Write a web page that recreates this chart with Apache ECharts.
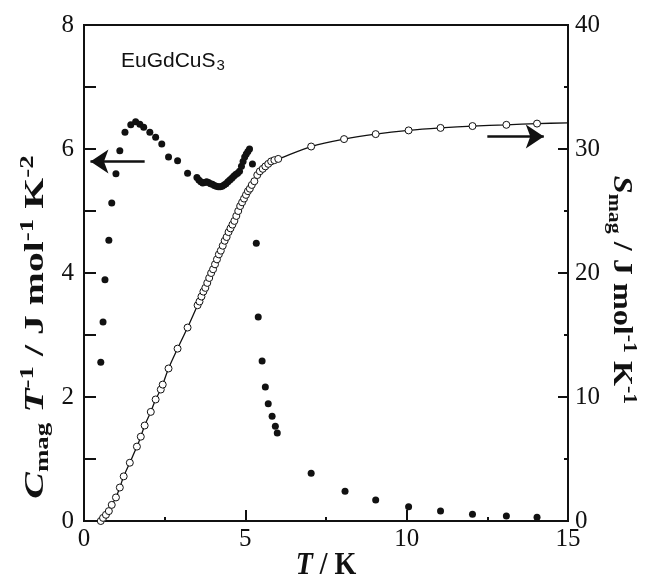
<!DOCTYPE html>
<html>
<head>
<meta charset="utf-8">
<script src="https://cdn.jsdelivr.net/npm/echarts@6.0.0/dist/echarts.min.js"></script>
<style>
html,body{margin:0;padding:0;background:#fff;}
#chart{width:654px;height:581px;}
</style>
</head>
<body>
<div id="chart"></div>
<script>
// ---- Data ----
// Magnetic heat capacity C_mag/T (left axis, filled circles)
const cT = [0.52,0.59,0.65,0.77,0.86,0.99,1.11,1.27,1.45,1.60,1.73,1.85,2.04,2.22,2.41,2.62,2.90,3.21,
  3.50,3.56,3.62,3.68,3.74,3.80,3.86,3.92,3.98,4.04,4.10,4.16,4.22,4.28,4.34,4.40,4.46,4.52,4.58,4.64,4.70,4.76,4.82,4.88,4.93,4.98,5.03,5.08,5.13,5.22,
  5.34,5.40,5.52,5.62,5.71,5.83,5.93,5.99,7.04,8.09,9.04,10.06,11.05,12.04,13.09,14.04];
const cVal = [2.56,3.21,3.89,4.53,5.13,5.60,5.97,6.27,6.39,6.44,6.40,6.35,6.27,6.19,6.08,5.87,5.81,5.61,
  5.54,5.50,5.47,5.45,5.46,5.47,5.46,5.44,5.43,5.41,5.40,5.39,5.39,5.40,5.42,5.44,5.47,5.50,5.53,5.56,5.59,5.61,5.64,5.72,5.80,5.87,5.92,5.96,6.00,5.76,
  4.48,3.29,2.58,2.16,1.89,1.69,1.53,1.42,0.77,0.48,0.34,0.23,0.16,0.11,0.08,0.06];

// Magnetic entropy S_mag (right axis, open circles)
const sT = [0.52,0.59,0.68,0.77,0.86,0.99,1.11,1.23,1.42,1.64,1.76,1.88,2.07,2.22,2.38,2.44,2.62,2.90,3.21,3.52,
  3.58,3.64,3.70,3.76,3.82,3.88,3.94,4.00,4.06,4.12,4.18,4.24,4.30,4.36,4.42,4.48,4.54,4.60,4.66,4.72,4.78,4.84,4.90,4.96,5.02,5.08,5.14,5.20,
  5.28,5.37,5.45,5.54,5.62,5.71,5.80,5.90,6.02,7.04,8.06,9.04,10.06,11.05,12.04,13.09,14.04];
const sVal = [0.0,0.25,0.5,0.8,1.3,1.9,2.7,3.6,4.7,6.0,6.8,7.7,8.8,9.8,10.6,11.0,12.3,13.9,15.6,17.4,
  17.7,18.1,18.5,18.8,19.2,19.6,20.0,20.3,20.7,21.1,21.5,21.8,22.2,22.6,22.9,23.3,23.6,23.9,24.2,24.6,25.0,25.4,25.7,26.0,26.3,26.6,26.8,27.1,
  27.4,27.9,28.2,28.4,28.6,28.8,29.0,29.1,29.2,30.2,30.8,31.2,31.5,31.7,31.85,31.95,32.05];
// end of the entropy curve at the right frame
const sTailT = [15];
const sTailVal = [32.1];

// Axis ticks
const xTicks = {min:0, max:15, interval:5};
const yLeftTicks = {min:0, max:8, interval:2};
const yRightTicks = {min:0, max:40, interval:10};

// Arrows (data coordinates)
const arrowLeft = {from:[1.88,5.8], to:[0.2,5.8]};
const arrowRight = {from:[12.5,31.0], to:[14.25,31.0]};

// ---- Build chart ----
const cData = cT.map((t,i)=>[t,cVal[i]]);
const sData = sT.map((t,i)=>[t,sVal[i]]);
const sLine = sData.concat(sTailT.map((t,i)=>[t,sTailVal[i]]));

const serif = 'Liberation Serif, Times New Roman, serif';
const axisLineStyle = {color:'#111', width:2};
const labelStyle = {color:'#111', fontFamily:serif, fontSize:25};

const chart = echarts.init(document.getElementById('chart'), null, {renderer:'canvas'});
const titleRich = {
  i:{fontFamily:serif, fontWeight:'bold', fontStyle:'italic', fontSize:28, lineHeight:34, fill:'#111', color:'#111'},
  b:{fontFamily:serif, fontWeight:'bold', fontSize:28, lineHeight:34, fill:'#111', color:'#111'},
  sub:{fontFamily:serif, fontWeight:'bold', fontSize:19, lineHeight:19, verticalAlign:'bottom', fill:'#111', color:'#111'},
  sup:{fontFamily:serif, fontWeight:'bold', fontSize:19, lineHeight:12, verticalAlign:'top', fill:'#111', color:'#111'}
};

const arrowMarkLine = (a) => ({
  silent:true, symbol:['none','arrow'], symbolSize:18, label:{show:false},
  lineStyle:{color:'#111', width:2.5, type:'solid', opacity:1},
  itemStyle:{color:'#111', opacity:1},
  emphasis:{disabled:true},
  data:[[{coord:a.from},{coord:a.to}]]
});

chart.setOption({
  animation:false,
  backgroundColor:'#fff',
  grid:{left:84, right:86, top:25, bottom:60, show:true, borderColor:'#111', borderWidth:2, backgroundColor:'transparent'},
  xAxis:{
    type:'value', min:xTicks.min, max:xTicks.max, interval:xTicks.interval,
    axisLine:{show:true, onZero:false, lineStyle:axisLineStyle},
    axisTick:{show:true, inside:true, length:11, lineStyle:{color:'#111', width:2}},
    minorTick:{show:true, splitNumber:2, length:4, lineStyle:{color:'#111', width:2}},
    splitLine:{show:false},
    axisLabel:Object.assign({margin:6}, labelStyle)
  },
  yAxis:[
    {
      type:'value', position:'left', min:yLeftTicks.min, max:yLeftTicks.max, interval:yLeftTicks.interval,
      axisLine:{show:true, onZero:false, lineStyle:axisLineStyle},
      axisTick:{show:true, inside:true, length:12, lineStyle:{color:'#111', width:2}},
      minorTick:{show:true, splitNumber:2, length:12, lineStyle:{color:'#111', width:2}},
      splitLine:{show:false},
      axisLabel:Object.assign({margin:10}, labelStyle)
    },
    {
      type:'value', position:'right', min:yRightTicks.min, max:yRightTicks.max, interval:yRightTicks.interval,
      axisLine:{show:true, onZero:false, lineStyle:axisLineStyle},
      axisTick:{show:true, inside:true, length:10, lineStyle:{color:'#111', width:2}},
      minorTick:{show:true, splitNumber:2, length:4, lineStyle:{color:'#111', width:2}},
      splitLine:{show:false},
      axisLabel:Object.assign({margin:7}, labelStyle)
    }
  ],
  series:[
    {
      type:'line', yAxisIndex:1, data:sLine, showSymbol:false, smooth:0.3,
      lineStyle:{color:'#111', width:1.3}, z:2, silent:true
    },
    {
      type:'scatter', yAxisIndex:1, data:sData, symbol:'circle', symbolSize:7,
      itemStyle:{color:'#fff', borderColor:'#111', borderWidth:1, opacity:1}, z:3,
      markLine:arrowMarkLine(arrowRight)
    },
    {
      type:'scatter', yAxisIndex:0, data:cData, symbol:'circle', symbolSize:7,
      itemStyle:{color:'#111', opacity:1}, z:4,
      markLine:arrowMarkLine(arrowLeft)
    }
  ],
  graphic:[
    {
      type:'text', x:121, y:49, z:10,
      style:{
        text:'{a|EuGdCuS}{s|3}',
        rich:{
          a:{fontFamily:'Liberation Sans, Arial, sans-serif', fontSize:21, lineHeight:24, fill:'#111', textStrokeWidth:0.4, textStroke:'#111'},
          s:{fontFamily:'Liberation Sans, Arial, sans-serif', fontSize:15, lineHeight:14, verticalAlign:'bottom', fill:'#111', padding:[0,0,0,1]}
        }
      }
    },
    {
      type:'text', x:326, y:566, z:10, scaleY:1.15,
      style:{
        text:'{i|T}{b| / K}', rich:titleRich, align:'center', verticalAlign:'middle', textAlign:'center', textVerticalAlign:'middle'
      }
    },
    {
      type:'text', x:36, y:327, z:10, rotation:Math.PI/2, scaleX:1.42,
      style:{
        text:'{i|C}{sub|mag}{i| T}{sup|-1}{b| / J mol}{sup|-1}{b| K}{sup|-2}', rich:titleRich,
        align:'center', verticalAlign:'middle', textAlign:'center', textVerticalAlign:'middle'
      }
    },
    {
      type:'text', x:621, y:290, z:10, rotation:-Math.PI/2, scaleX:1.15,
      style:{
        text:'{i|S}{sub|mag}{b| / J mol}{sup|-1}{b| K}{sup|-1}', rich:titleRich,
        align:'center', verticalAlign:'middle', textAlign:'center', textVerticalAlign:'middle'
      }
    }
  ]
});
</script>
</body>
</html>
